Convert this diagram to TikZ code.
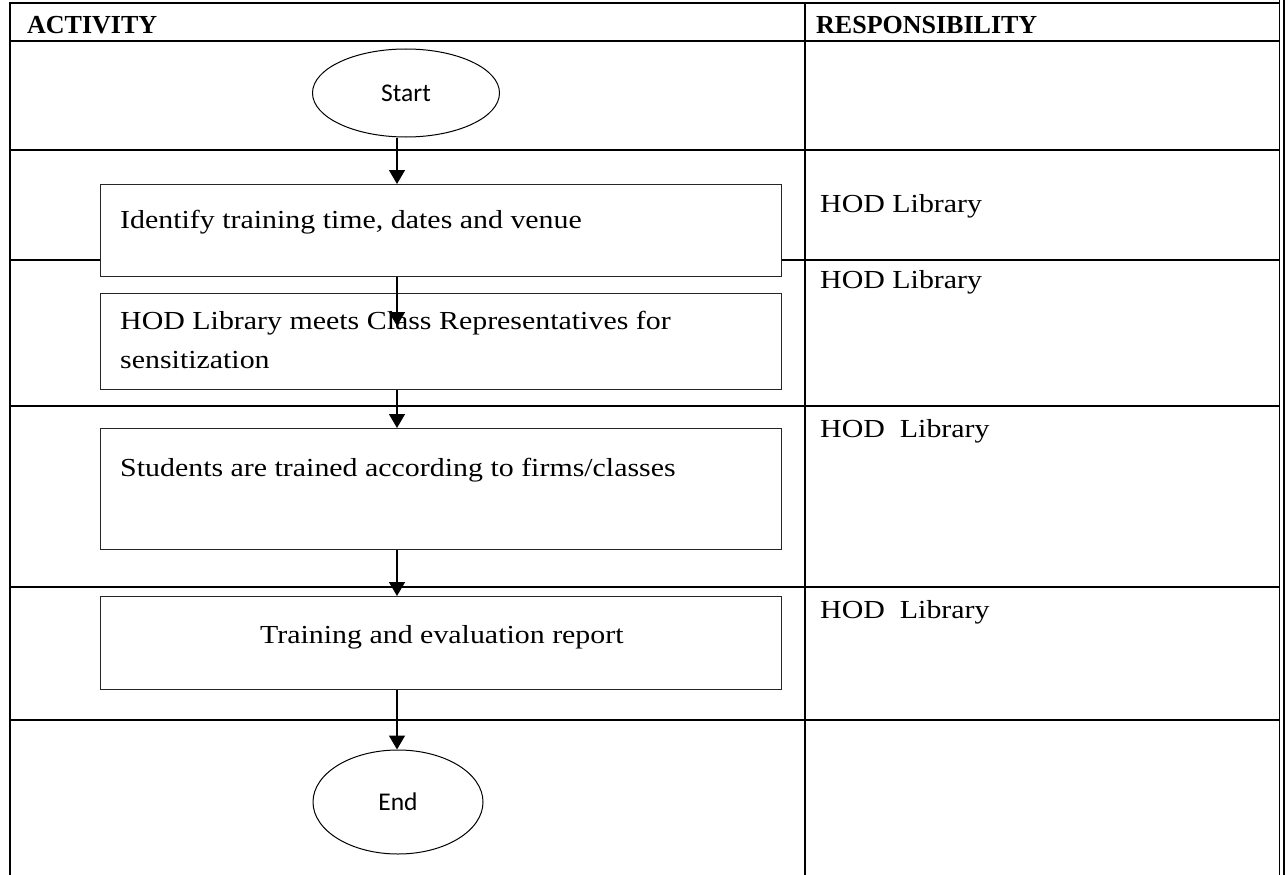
\documentclass[tikz,border=0pt]{standalone}
\usepackage{fontspec}
\setmainfont[FakeStretch=1.15]{Liberation Serif}
\newfontfamily\hdfont{Liberation Serif}
\newfontfamily\sansf{Carlito}
\usetikzlibrary{arrows.meta,shapes.geometric}
\begin{document}
\begin{tikzpicture}[x=1pt,y=-1pt,
  tbl/.style={line width=2.3pt},
  dbl/.style={line width=1.6pt},
  bx/.style={draw=black!85, line width=1.1pt, fill=white, minimum width=681pt, anchor=north west, inner sep=0pt},
  oval/.style={draw, ellipse, line width=1pt, inner sep=0pt, font=\sansf\fontsize{25.5}{30}\selectfont},
  txt/.style={inner sep=0pt, anchor=base west, font=\fontsize{26}{31}\selectfont},
  hd/.style={inner sep=0pt, anchor=base west, font=\hdfont\bfseries\fontsize{26}{31}\selectfont},
  arr/.style={line width=1.5pt, -{Triangle[width=16pt,length=14pt]}}]
\useasboundingbox (0,0) rectangle (1288,875);
% table
\draw[tbl] (8.8,3) -- (1280,3);
\foreach \yy in {41,150,260,406,587,720} \draw[tbl] (10,\yy) -- (1280,\yy);
\draw[tbl] (10,3) -- (10,875);
\draw[tbl] (805,3) -- (805,875);
\draw[dbl] (1279.5,0) -- (1279.5,875);
\draw[dbl] (1283.7,0) -- (1283.7,875);
% headers
\node[hd] (h1) at (27,34) {ACTIVITY};
\node[hd] (h2) at (816,34) {RESPONSIBILITY};
% flow shapes
\node[oval, minimum width=187pt, minimum height=88pt] (start) at (406,93) {Start};
\node[bx, minimum height=92pt] (b1) at (100,184) {};
\node[bx, minimum height=96pt] (b2) at (100,293) {};
\node[bx, minimum height=121pt] (b3) at (100,428) {};
\node[bx, minimum height=93pt] (b4) at (100,596) {};
\node[oval, minimum width=170pt, minimum height=104pt] (end) at (398,802) {End};
% box texts
\node[txt] (t1) at (120,228) {Identify training time, dates and venue};
\node[txt] (t2a) at (120,329) {HOD Library meets Class Representatives for};
\node[txt] (t2b) at (120,368) {sensitization};
\node[txt] (t3) at (120,476) {Students are trained according to firms/classes};
\node[txt] (t4) at (260,643) {Training and evaluation report};
% responsibility
\node[txt] (r1) at (820,212) {HOD Library};
\node[txt] (r2) at (820,288) {HOD Library};
\node[txt] (r3) at (820,437) {HOD\ \ Library};
\node[txt] (r4) at (820,618) {HOD\ \ Library};
% connectors
\coordinate (ax) at (397,0);
\coordinate (c12) at (397,326);
\draw[arr] (ax |- start.south) -- (ax |- b1.north);
\draw[arr] (ax |- b1.south) -- (c12);
\draw[arr] (ax |- b2.south) -- (ax |- b3.north);
\draw[arr] (ax |- b3.south) -- (ax |- b4.north);
\draw[arr] (ax |- b4.south) -- (ax |- end.north);
\end{tikzpicture}
\end{document}
